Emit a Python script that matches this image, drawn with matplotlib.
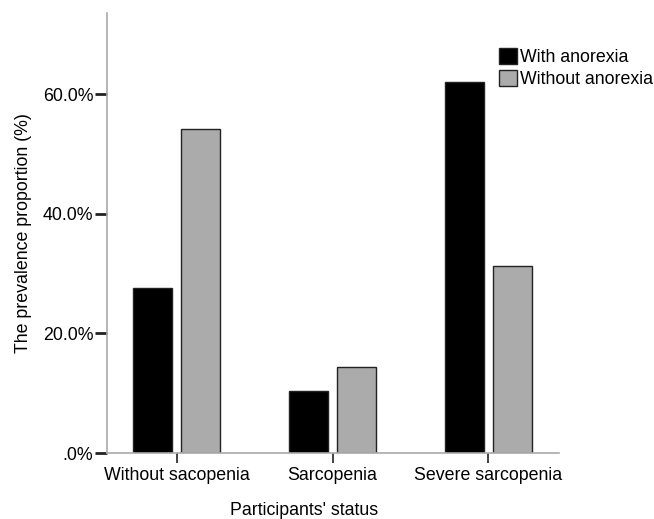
import numpy as np
import matplotlib
matplotlib.use("Agg")
import matplotlib.pyplot as plt

# 数据：各组患病比例 (%)
categories = ["Without sacopenia", "Sarcopenia", "Severe sarcopenia"]
with_anorexia = [27.6, 10.4, 62.1]
without_anorexia = [54.2, 14.4, 31.3]
series_names = ["With anorexia", "Without anorexia"]
y_ticks = [0, 20, 40, 60]
y_tick_labels = [".0%", "20.0%", "40.0%", "60.0%"]

plt.rcParams['font.family'] = ['Liberation Sans', 'DejaVu Sans']
plt.rcParams['font.size'] = 12.8

fig = plt.figure(figsize=(6.54, 5.19), dpi=100)
ax = fig.add_axes([0.163, 0.127, 0.691, 0.848])

x = np.arange(len(categories))
w = 0.25
off = 0.155
ax.bar(x - off, with_anorexia, w, color='black', edgecolor='#222222', linewidth=1, label=series_names[0])
ax.bar(x + off, without_anorexia, w, color='#ababab', edgecolor='#222222', linewidth=1, label=series_names[1])

ax.set_xlim(-0.45, 2.45)
ax.set_ylim(0, 73.6)

ax.set_xticks(x)
ax.set_xticklabels(categories)
ax.set_yticks(y_ticks)
ax.set_yticklabels(y_tick_labels)

ax.tick_params(axis='x', length=7, width=1.2, color='#222222', direction='out', pad=3)
ax.tick_params(axis='y', length=8.6, width=2, color='#222222', direction='out', pad=1)

for s in ['top', 'right']:
    ax.spines[s].set_visible(False)
for s in ['left', 'bottom']:
    ax.spines[s].set_color('#aaaaaa')
    ax.spines[s].set_linewidth(1.2)

ax.set_ylabel("The prevalence proportion (%)")
ax.set_xlabel("Participants' status")
ax.xaxis.set_label_coords(0.437, -0.112)
ax.yaxis.set_label_coords(-0.165, 0.5)

ax.legend(loc='upper left', bbox_to_anchor=(0.869, 0.921), frameon=False,
          handlelength=1.0, handleheight=1.0, handletextpad=0.15,
          labelspacing=0.25, borderpad=0, borderaxespad=0)

fig.savefig("out.png", dpi=100)
